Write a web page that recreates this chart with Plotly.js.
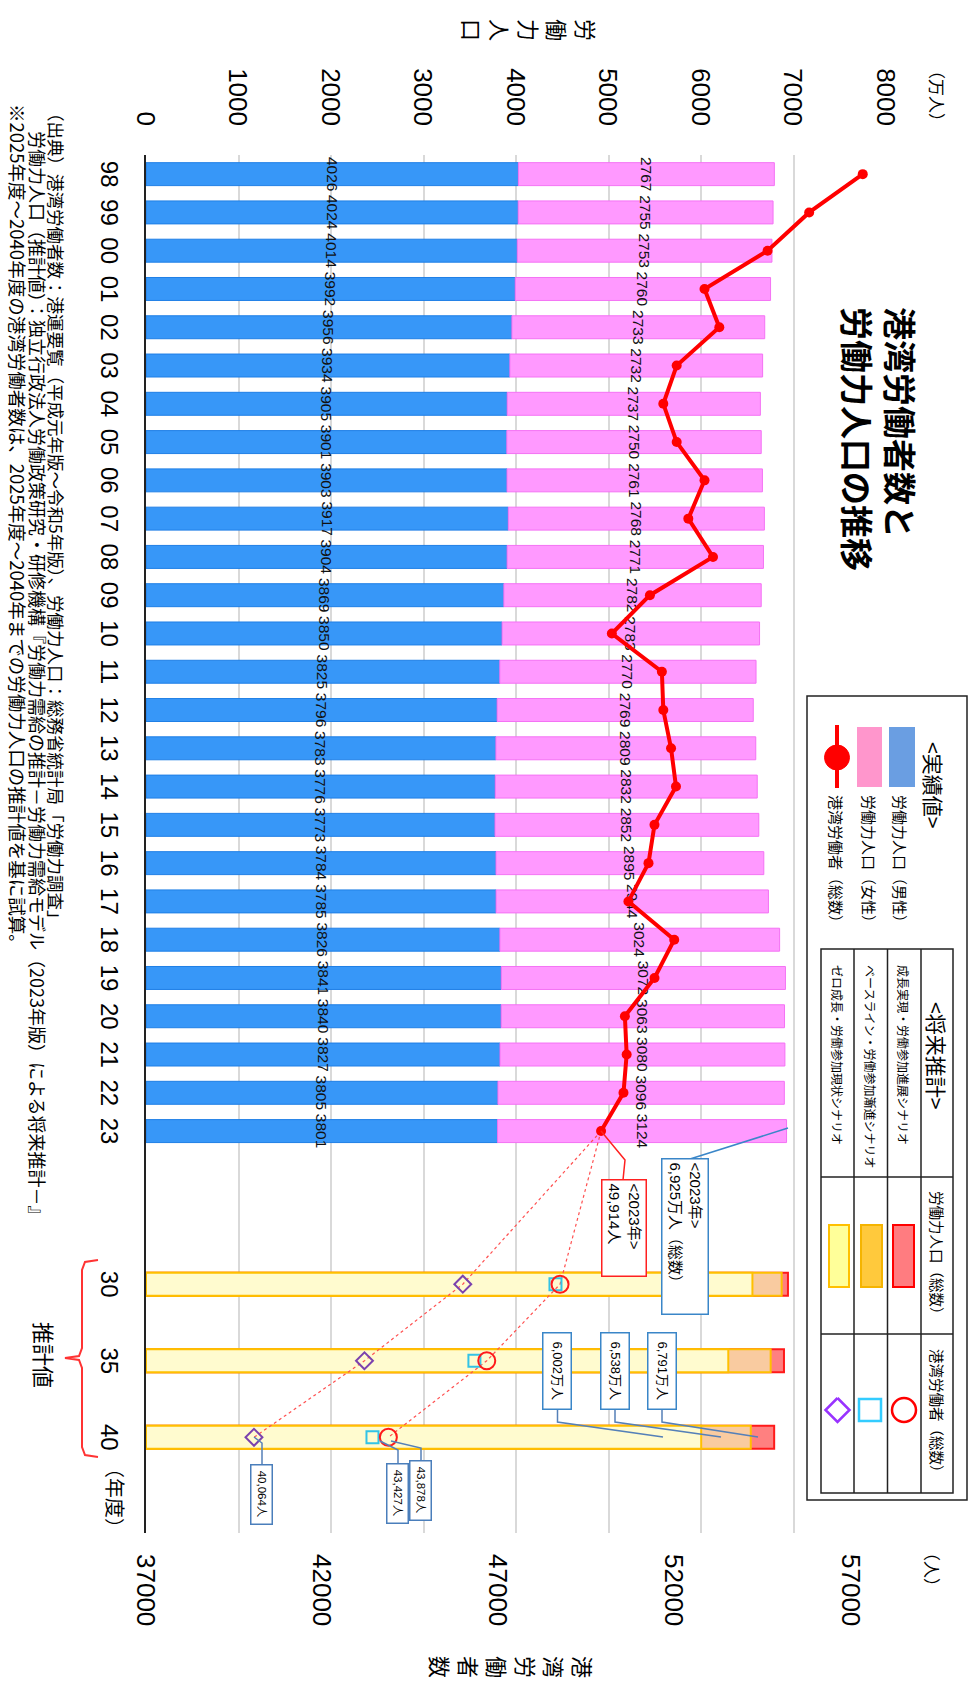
<!DOCTYPE html>
<html><head><meta charset="utf-8">
<script src="https://cdn.plot.ly/plotly-3.0.1.min.js"></script>
<style>
html,body{margin:0;padding:0;background:#fff;overflow:hidden;width:969px;height:1686px;}
#chart{position:absolute;left:0;top:0;width:1686px;height:969px;transform-origin:0 0;}
</style></head><body><div id="chart"></div>
<script>
// ---- data ----
const years = ['98','99','00','01','02','03','04','05','06','07','08','09','10','11','12','13','14','15','16','17','18','19','20','21','22','23'];
const futureYears = ['30','35','40'];
const maleLF = [4026,4024,4014,3992,3956,3934,3905,3901,3903,3917,3904,3869,3850,3825,3796,3783,3776,3773,3784,3785,3826,3841,3840,3827,3805,3801];
const femaleLF = [2767,2755,2753,2760,2733,2732,2737,2750,2761,2768,2771,2782,2783,2770,2769,2809,2832,2852,2895,2944,3024,3072,3063,3080,3096,3124];
const harborWorkers = [57340,55820,54640,52850,53270,52060,51680,52060,52850,52390,53090,51300,50220,51640,51680,51900,52040,51430,51260,50690,51990,51430,50590,50640,50550,49914];
const lfGrowth = [6940,6897,6791];
const lfBaseline = [6872,6753,6538];
const lfZero = [6556,6295,6002];
const workersGrowth = [48750,46670,43878];
const workersBaseline = [48620,46320,43427];
const workersZero = [45990,43200,40064];

// ---- geometry helpers (landscape canvas, rotated afterwards) ----
const W = 1686, H = 969, ML = 155, MR = 153, MT = 83, MB = 146;
const PW = W - ML - MR, PH = H - MT - MB;
const px = x => (x - ML) / PW;
const py = y => (H - MB - y) / PH;
const FONT = 'Liberation Sans, Arial, Noto Sans CJK JP, sans-serif';
const JFONT = 'Noto Sans CJK JP, sans-serif';

const actualPos = years.map((_, i) => i);
const futurePos = futureYears.map((_, k) => years.length + 3 + 2 * k);
const last = years.length - 1;
const fmt = v => v.toLocaleString('en-US');

const traces = [];
traces.push({type:'bar', x:actualPos, y:maleLF, width:0.6, name:'労働力人口（男性）',
  marker:{color:'#3797F8', line:{color:'#1F7FE6', width:1}},
  text:maleLF.map(String), textposition:'inside', insidetextanchor:'middle', textangle:0, constraintext:'none',
  textfont:{size:15.5, color:'#111', family:FONT}});
traces.push({type:'bar', x:actualPos, y:femaleLF, base:maleLF, width:0.6, name:'労働力人口（女性）',
  marker:{color:'#FF99FF', line:{color:'#F472F4', width:1}},
  text:femaleLF.map(String), textposition:'inside', insidetextanchor:'middle', textangle:0, constraintext:'none',
  textfont:{size:15.5, color:'#111', family:FONT}});
traces.push({type:'bar', x:futurePos, y:lfGrowth, width:0.6, marker:{color:'#FF8080', line:{color:'#FF1A1A', width:2}}});
traces.push({type:'bar', x:futurePos, y:lfBaseline, width:0.6, marker:{color:'#F9CBA0', line:{color:'#FFC000', width:2}}});
traces.push({type:'bar', x:futurePos, y:lfZero, width:0.6, marker:{color:'#FFFBCF', line:{color:'#FFC000', width:2}}});

const lastW = harborWorkers[last];
traces.push({type:'scatter', mode:'lines', yaxis:'y2', x:[last, ...futurePos], y:[lastW, ...workersGrowth],
  line:{color:'#FF5050', width:1.2, dash:'dot'}});
traces.push({type:'scatter', mode:'lines', yaxis:'y2', x:[last, ...futurePos], y:[lastW, ...workersZero],
  line:{color:'#FF5050', width:1.2, dash:'dot'}});
traces.push({type:'scatter', mode:'lines+markers', yaxis:'y2', x:actualPos, y:harborWorkers,
  line:{color:'#FF0000', width:4}, marker:{color:'#FF0000', size:10}});
traces.push({type:'scatter', mode:'markers', yaxis:'y2', x:futurePos, y:workersBaseline,
  marker:{symbol:'square-open', size:12, color:'#33C3E6', line:{width:2}}});
traces.push({type:'scatter', mode:'markers', yaxis:'y2', x:futurePos, y:workersGrowth,
  marker:{symbol:'circle-open', size:17, color:'#FF1A1A', line:{width:2}}});
traces.push({type:'scatter', mode:'markers', yaxis:'y2', x:futurePos, y:workersZero,
  marker:{symbol:'diamond-open', size:13, color:'#7B42AE', line:{width:2}}});

// ---- decoration helpers ----
function ann(x, y, text, o) {
  return Object.assign({xref:'paper', yref:'paper', x:px(x), y:py(y), text:text, showarrow:false,
    xanchor:'center', yanchor:'middle', font:{size:14, color:'#000', family:JFONT}}, o || {});
}
function rect(x0, y0, x1, y1, o) {
  return Object.assign({type:'rect', xref:'paper', yref:'paper', x0:px(x0), x1:px(x1), y0:py(y1), y1:py(y0),
    line:{color:'#000', width:1.5}}, o || {});
}
function path(pts, o) {
  const d = pts.map((p, i) => (i ? 'L' : 'M') + px(p[0]) + ',' + py(p[1])).join(' ');
  return Object.assign({type:'path', xref:'paper', yref:'paper', path:d, line:{color:'#5580B8', width:1.5}}, o || {});
}
function box(x, y, w, h, text, color, size, o) {
  return ann(x, y, text, Object.assign({width:w - 7.5, height:h - 7.5, borderpad:3, borderwidth:1.5,
    bordercolor:color, bgcolor:'#fff', font:{size:size, color:'#000', family:FONT}}, o || {}));
}

const shapes = [];
const annotations = [];

// title & axis titles
annotations.push(ann(300, 89, '<b>港湾労働者数と</b><br><b>労働力人口の推移</b>', {xanchor:'left', align:'left', bgcolor:'#fff', borderpad:6, font:{size:33, color:'#000', family:JFONT}}));
annotations.push(ann(30, 439, '労<br>働<br>力<br>人<br>口', {font:{size:22, color:'#000', family:JFONT}}));
annotations.push(ann(96, 31, '（万人）', {font:{size:17, color:'#000', family:JFONT}}));
annotations.push(ann(1667, 456, '港<br>湾<br>労<br>働<br>者<br>数', {font:{size:22, color:'#000', family:JFONT}}));
annotations.push(ann(1569, 36, '（人）', {font:{size:17, color:'#000', family:JFONT}}));
annotations.push(ann(1456, 853, '（年度）', {xanchor:'left', font:{size:20, color:'#000', family:JFONT}}));

// 推計値 brace
const br = [[1260,871],[1262,884],[1270,887],[1348,887],[1356,890],[1358,904],[1360,890],[1368,887],[1447,887],[1455,884],[1457,871]];
shapes.push(path(br, {line:{color:'#FF3333', width:2}}));
annotations.push(ann(1355, 924, '推計値', {font:{size:22, color:'#000', family:JFONT}}));

// footnotes
annotations.push(ann(102, 912, '（出典）港湾労働者数：港運要覧（平成元年版～令和5年版）、労働力人口：総務省統計局「労働力調査」', {xanchor:'left', font:{size:17.5, color:'#000', family:JFONT}}));
annotations.push(ann(102, 931, '\u3000\u2002労働力人口（推計値）：独立行政法人労働政策研究・研修機構『労働力需給の推計－労働力需給モデル（2023年版）による将来推計－』', {xanchor:'left', font:{size:18, color:'#000', family:JFONT}}));
annotations.push(ann(102, 951, '※2025年度～2040年度の港湾労働者数は、2025年度～2040年までの労働力人口の推計値を基に試算。', {xanchor:'left', font:{size:18.5, color:'#000', family:JFONT}}));

// callouts 2023
const total23 = maleLF[last] + femaleLF[last];
shapes.push(path([[1159,279],[1128,181]], {line:{color:'#3A86C8', width:1.5}}));
annotations.push(box(1236.5, 284, 155, 46, '&lt;2023年&gt;<br>' + fmt(total23) + '万人（総数）', '#3A86C8', 15, {align:'left'}));
shapes.push(path([[1180,346],[1160,344],[1131,368]], {line:{color:'#FF2020', width:1.5}}));
annotations.push(box(1228, 345, 96, 44, '&lt;2023年&gt;<br>' + fmt(lastW) + '人', '#FF2020', 15, {align:'left'}));

// callouts 2040 labour force
const lfBoxes = [[lfZero[2], 411.5, 306], [lfBaseline[2], 354, 248], [lfGrowth[2], 307, 211]];
lfBoxes.forEach(b => {
  shapes.push(path([[1409,b[1]],[1422,b[1]],[1437,b[2]]], {line:{color:'#5580B8', width:1.5}}));
  annotations.push(box(1371, b[1], 76, 28, fmt(b[0]) + '万人', '#3A86C8', 13));
});
// callouts 2040 harbour workers
shapes.push(path([[1437,715],[1443,707],[1465,707]]));
annotations.push(box(1494.5, 707, 59, 21, fmt(workersZero[2]) + '人', '#4A7EBB', 11.5));
shapes.push(path([[1441,589],[1450,571],[1463,571]]));
annotations.push(box(1493, 571.5, 59, 21, fmt(workersBaseline[2]) + '人', '#4A7EBB', 11.5));
shapes.push(path([[1441,578],[1448,548],[1461,548]]));
annotations.push(box(1490.5, 548, 59, 21, fmt(workersGrowth[2]) + '人', '#4A7EBB', 11.5));

// ---- custom legend ----
shapes.push(rect(696, 2, 1500, 162, {fillcolor:'#fff', line:{color:'#222', width:1.5}}));
annotations.push(ann(740, 35, '&lt;実績値&gt;', {xanchor:'left', font:{size:21, color:'#000', family:JFONT}}));
shapes.push(rect(727, 54, 787, 80, {fillcolor:'#6A9EE2', line:{width:0}}));
annotations.push(ann(793, 68, '労働力人口（男性）', {xanchor:'left', font:{size:15, color:'#000', family:JFONT}}));
shapes.push(rect(727, 87, 787, 112, {fillcolor:'#FF96CC', line:{width:0}}));
annotations.push(ann(793, 100, '労働力人口（女性）', {xanchor:'left', font:{size:15, color:'#000', family:JFONT}}));
shapes.push(path([[725,132],[788,132]], {line:{color:'#FF0000', width:4}}));
shapes.push({type:'circle', xref:'paper', yref:'paper', x0:px(745), x1:px(770), y0:py(144.5), y1:py(119.5), fillcolor:'#FF0000', line:{color:'#FF0000', width:1}});
annotations.push(ann(793, 132, '港湾労働者（総数）', {xanchor:'left', font:{size:15, color:'#000', family:JFONT}}));

// table
const tx = [949, 1177, 1334, 1493];
const ty = [16, 48, 81.5, 115, 148];
shapes.push(rect(tx[0], ty[0], tx[3], ty[4], {line:{color:'#222', width:1.5}}));
tx.slice(1, 3).forEach(x => shapes.push(path([[x, ty[0]], [x, ty[4]]], {line:{color:'#222', width:1.5}})));
ty.slice(1, 4).forEach(y => shapes.push(path([[tx[0], y], [tx[3], y]], {line:{color:'#222', width:1.5}})));
annotations.push(ann(1000, 32, '&lt;将来推計&gt;', {xanchor:'left', font:{size:21, color:'#000', family:JFONT}}));
annotations.push(ann(1256, 32, '労働力人口（総数）', {font:{size:14.5, color:'#000', family:JFONT}}));
annotations.push(ann(1414, 32, '港湾労働者（総数）', {font:{size:14.5, color:'#000', family:JFONT}}));
const scen = ['成長実現・労働参加進展シナリオ', 'ベースライン・労働参加漸進シナリオ', 'ゼロ成長・労働参加現状シナリオ'];
const rowC = [65, 98, 131.5];
scen.forEach((s, i) => annotations.push(ann(963, rowC[i], s, {xanchor:'left', font:{size:12, color:'#000', family:JFONT}})));
shapes.push(rect(1225, 55, 1287, 76, {fillcolor:'#FF7C80', line:{color:'#FF0000', width:2}}));
shapes.push(rect(1225, 87, 1287, 108, {fillcolor:'#FFC93C', line:{color:'#F5B400', width:2}}));
shapes.push(rect(1225, 120, 1287, 140, {fillcolor:'#FFFF99', line:{color:'#FFC000', width:2}}));
shapes.push({type:'circle', xref:'paper', yref:'paper', x0:px(1398), x1:px(1422), y0:py(77), y1:py(53), line:{color:'#FF0000', width:2.5}});
shapes.push(rect(1399, 88, 1421, 110, {line:{color:'#33CCFF', width:2.5}}));
shapes.push(path([[1398,131.5],[1410,119.5],[1422,131.5],[1410,143.5],[1398,131.5]], {line:{color:'#9933FF', width:2.5}}));

const layout = {
  width: W, height: H,
  margin: {l:ML, r:MR, t:MT, b:MB, pad:0},
  paper_bgcolor:'#fff', plot_bgcolor:'#fff',
  font:{family:FONT, color:'#000'},
  barmode:'overlay', showlegend:false, hovermode:false,
  xaxis:{range:[-0.5, 35.5], tickvals:[...actualPos, ...futurePos], ticktext:[...years, ...futureYears],
    tickfont:{size:24, family:FONT}, showgrid:false, zeroline:false, showline:true, linecolor:'#222', linewidth:2,
    ticks:'', ticklabelstandoff:14, fixedrange:true},
  yaxis:{range:[0, 8000], dtick:1000, tickfont:{size:26, family:FONT}, showgrid:true, gridcolor:'#D9D9D9', gridwidth:2,
    zeroline:false, showline:false, ticks:'', ticklabelstandoff:28, fixedrange:true},
  yaxis2:{overlaying:'y', side:'right', range:[37000, 58000], tickvals:[37000,42000,47000,52000,57000], tickformat:'d',
    tickfont:{size:26, family:FONT}, showgrid:false, zeroline:false, showline:false, ticks:'', ticklabelstandoff:20, fixedrange:true},
  shapes: shapes,
  annotations: annotations
};

Plotly.newPlot('chart', traces, layout, {displayModeBar:false, staticPlot:true}).then(() => {
  document.getElementById('chart').style.transform = 'translate(969px,0) rotate(90deg)';
});
</script></body></html>
